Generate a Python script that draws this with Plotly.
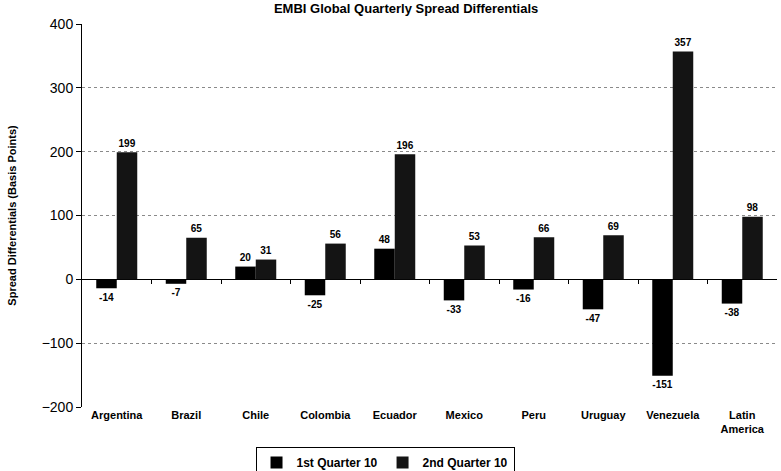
import plotly.graph_objects as go

countries = ["Argentina", "Brazil", "Chile", "Colombia", "Ecuador", "Mexico",
             "Peru", "Uruguay", "Venezuela", "Latin<br>America"]
q1_2010 = [-14, -7, 20, -25, 48, -33, -16, -47, -151, -38]
q2_2010 = [199, 65, 31, 56, 196, 53, 66, 69, 357, 98]
y_ticks = [-200, -100, 0, 100, 200, 300, 400]

FONT = "Arial, Liberation Sans, sans-serif"
label_font = dict(family=FONT, size=12, color="black", weight="bold")

fig = go.Figure()
fig.add_trace(go.Bar(
    name="1st Quarter 10", x=countries, y=q1_2010,
    marker=dict(color="#000000", line=dict(width=0)),
    text=q1_2010, textposition="outside", textfont=label_font,
    cliponaxis=False,
))
fig.add_trace(go.Bar(
    name="2nd Quarter 10", x=countries, y=q2_2010,
    marker=dict(color="#141414", line=dict(width=0)),
    text=q2_2010, textposition="outside", textfont=label_font,
    cliponaxis=False,
))

fig.update_layout(
    width=781, height=471,
    margin=dict(l=82, r=4, t=24, b=64, autoexpand=False),
    paper_bgcolor="white", plot_bgcolor="white",
    barmode="group", bargap=0.41, bargroupgap=0,
    font=dict(family=FONT, color="black"),
    title=dict(text="EMBI Global Quarterly Spread Differentials",
               x=0.52, xanchor="center", y=0.983, yanchor="middle",
               font=dict(family=FONT, size=13, color="black", weight="bold")),
    showlegend=True,
    legend=dict(orientation="h", x=0.436, xanchor="center",
                yref="container", y=0.051, yanchor="top",
                bordercolor="black", borderwidth=1, bgcolor="white",
                font=dict(family=FONT, size=12, color="black", weight="bold"),
                itemwidth=30, tracegroupgap=0),
    uniformtext=dict(minsize=8, mode="show"),
)

fig.update_xaxes(
    type="category", showgrid=False, showline=False, ticks="",
    tickfont=dict(family=FONT, size=11, color="black", weight="bold"),
)
fig.update_yaxes(
    range=[-200, 400], tickvals=y_ticks, ticks="outside", ticklen=5,
    tickcolor="black", showline=True, linecolor="black", linewidth=1,
    showgrid=True, gridcolor="#8a8a8a", griddash="dot", gridwidth=1,
    zeroline=True, zerolinecolor="black", zerolinewidth=1,
    tickfont=dict(family=FONT, size=14, color="black"),
    title=dict(text="Spread Differentials (Basis Points)", standoff=22,
               font=dict(family=FONT, size=11, color="black", weight="bold")),
)

# Category separator ticks along the zero line
fig.update_layout(xaxis2=dict(
    overlaying="x", anchor="free", position=200 / 600, side="bottom",
    range=[-0.5, len(countries) - 0.5],
    tickvals=[i + 0.5 for i in range(len(countries) - 1)],
    ticks="outside", ticklen=4, tickcolor="black",
    showticklabels=False, showgrid=False, showline=False, zeroline=False,
))
fig.add_trace(go.Scatter(x=[0], y=[0], xaxis="x2", mode="markers",
                         marker=dict(opacity=0), showlegend=False, hoverinfo="skip"))

fig.write_html("out.html")
